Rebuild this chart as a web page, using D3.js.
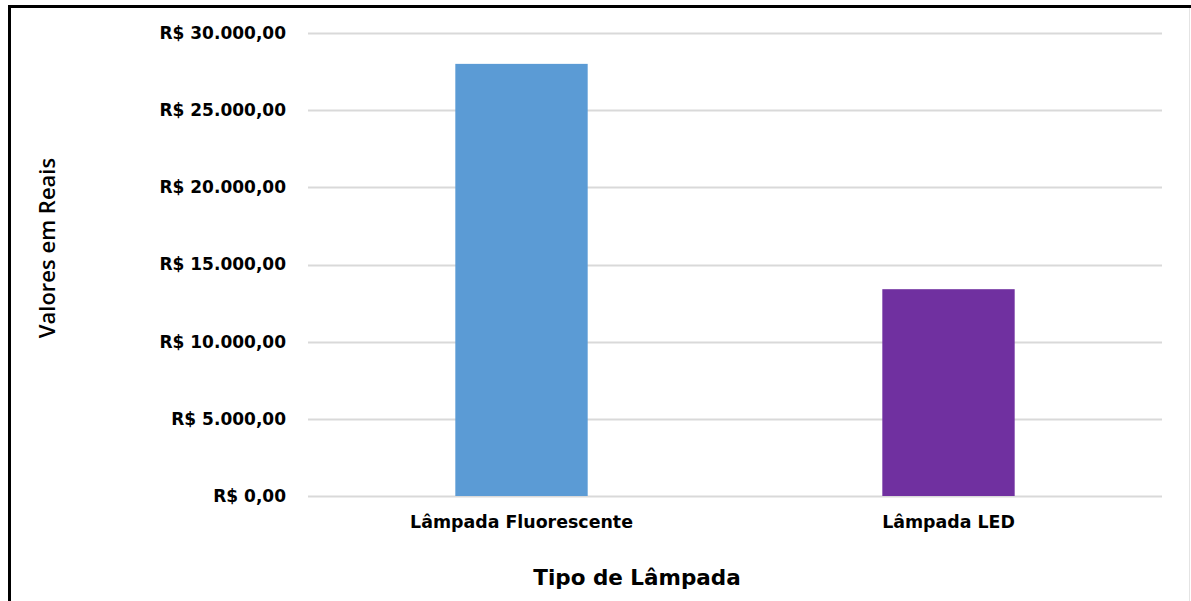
<!DOCTYPE html>
<html>
<head>
<meta charset="utf-8">
<script src="https://cdn.jsdelivr.net/npm/d3@7"></script>
<style>
  body { margin: 0; background: #fff; }
  text { fill: #000; }
</style>
</head>
<body>
<script>

const W = 1191, H = 601;

// values
const categories = ["Lâmpada Fluorescente", "Lâmpada LED"];
const values = [28000, 13400];
const colors = ["#5b9bd5", "#7030a0"];
const yTicks = [0, 5000, 10000, 15000, 20000, 25000, 30000];

const plotLeft = 308, plotRight = 1162, plotTop = 33, plotBottom = 496;

const svg = d3.select("body").append("svg")
  .attr("width", W)
  .attr("height", H);

// frame
svg.append("path")
  .attr("d", `M9.5,${H} V6.5 H${W}`)
  .attr("fill", "none")
  .attr("stroke", "#000")
  .attr("stroke-width", 3);
svg.append("line")
  .attr("x1", W - 1.5).attr("x2", W - 1.5)
  .attr("y1", 8).attr("y2", H)
  .attr("stroke", "#e4e4e4");

const x = d3.scaleBand()
  .domain(categories)
  .range([plotLeft, plotRight])
  .paddingInner(0.69)
  .paddingOuter(0.345);

const y = d3.scaleLinear()
  .domain([0, 30000])
  .range([plotBottom, plotTop]);

const fmt = v => "R$ " + d3.format(",.2f")(v).replace(/,/g, "#").replace(".", ",").replace(/#/g, ".");

// gridlines
svg.append("g")
  .selectAll("line")
  .data(yTicks)
  .join("line")
  .attr("x1", plotLeft).attr("x2", plotRight)
  .attr("y1", d => Math.round(y(d)) + 0.5)
  .attr("y2", d => Math.round(y(d)) + 0.5)
  .attr("stroke", "#d9d9d9")
  .attr("stroke-width", 2);

// y axis labels
const yAxis = svg.append("g")
  .attr("transform", `translate(${plotLeft}, 0)`)
  .call(d3.axisLeft(y).tickValues(yTicks).tickFormat(fmt).tickSize(0).tickPadding(22));
yAxis.select(".domain").remove();
yAxis.selectAll("text")
  .attr("font-family", "DejaVu Sans")
  .attr("font-weight", 700)
  .attr("font-size", 17)
  .attr("fill", "#000");

// bars
svg.append("g")
  .selectAll("rect")
  .data(values)
  .join("rect")
  .attr("x", (d, i) => x(categories[i]))
  .attr("y", d => y(d))
  .attr("width", x.bandwidth())
  .attr("height", d => y(0) - y(d))
  .attr("fill", (d, i) => colors[i]);

// x axis labels
const xAxis = svg.append("g")
  .attr("transform", `translate(0, ${plotBottom})`)
  .call(d3.axisBottom(x).tickSize(0).tickPadding(20));
xAxis.select(".domain").remove();
xAxis.selectAll("text")
  .attr("font-family", "DejaVu Sans")
  .attr("font-weight", 700)
  .attr("font-size", 17.4)
  .attr("fill", "#000");

// axis titles
svg.append("text")
  .attr("x", 637)
  .attr("y", 585)
  .attr("text-anchor", "middle")
  .attr("font-family", "DejaVu Sans")
  .attr("font-weight", 700)
  .attr("font-size", 21.5)
  .text("Tipo de Lâmpada");

svg.append("text")
  .attr("transform", "translate(55, 248) rotate(-90)")
  .attr("text-anchor", "middle")
  .attr("font-family", "Open Sans")
  .attr("font-weight", 600)
  .attr("font-size", 22)
  .text("Valores em Reais");

</script>
</body>
</html>
